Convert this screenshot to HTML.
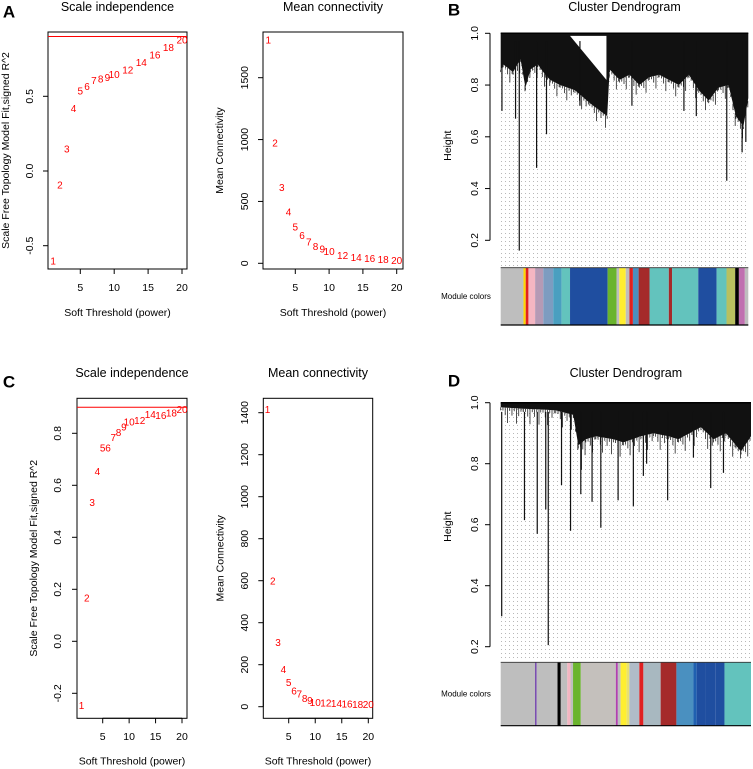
<!DOCTYPE html>
<html><head><meta charset="utf-8">
<style>
html,body{margin:0;padding:0;background:#fff;}
svg{display:block;font-family:"Liberation Sans",Arial,sans-serif;}
</style></head>
<body>
<svg id="fig" width="753" height="769" viewBox="0 0 753 769" xmlns="http://www.w3.org/2000/svg">
<defs>
<pattern id="dots" width="4" height="4" patternUnits="userSpaceOnUse">
<rect x="1" y="1" width="1" height="1" fill="#b8b8b8"/>
</pattern>
</defs>
</svg>
<script>
// ---- data ----
const powers=[1,2,3,4,5,6,7,8,9,10,12,14,16,18,20];
const A_r2=[-0.61,-0.10,0.14,0.41,0.53,0.56,0.60,0.61,0.62,0.64,0.67,0.72,0.77,0.82,0.87];
const A_k=[1796,966,603,406,287,215,166,129,107,86,53,40,32,22,14];
const C_r2=[-0.25,0.163,0.53,0.65,0.74,0.74,0.78,0.80,0.82,0.84,0.845,0.868,0.864,0.874,0.887];
const C_k=[1410,594,302,173,110,71,56,35,24,16,14,10,8,6,5];
const xTicks=[5,10,15,20];
const A_r2Ticks=[-0.5,0,0.5];
const A_kTicks=[0,500,1000,1500];
const C_r2Ticks=[-0.2,0,0.2,0.4,0.6,0.8];
const C_kTicks=[0,200,400,600,800,1000,1200,1400];
const cutHeight=0.9;
const dendTicks=[0.2,0.4,0.6,0.8,1.0];

const B_profFrac=[0,0.01,0.05,0.08,0.10,0.12,0.15,0.18,0.20,0.24,0.30,0.36,0.43,0.44,0.48,0.52,0.56,0.60,0.64,0.68,0.72,0.76,0.80,0.84,0.88,0.92,0.95,0.98,1.0];
const B_profH=[0.86,0.88,0.85,0.90,0.79,0.86,0.88,0.84,0.82,0.80,0.78,0.73,0.68,0.86,0.82,0.84,0.80,0.83,0.84,0.82,0.80,0.84,0.78,0.74,0.79,0.80,0.68,0.64,0.75];
const B_leafFrac=[0.005,0.06,0.075,0.145,0.185,0.32,0.53,0.74,0.79,0.913,0.975,0.99];
const B_leafH=[0.70,0.67,0.16,0.48,0.61,0.72,0.72,0.70,0.68,0.43,0.54,0.58];
const B_colStart=[0,0.092,0.101,0.112,0.139,0.172,0.212,0.246,0.28,0.432,0.468,0.479,0.48,0.505,0.52,0.534,0.557,0.601,0.679,0.692,0.798,0.872,0.912,0.947,0.962,0.986];
const B_colEnd  =[0.092,0.101,0.112,0.139,0.172,0.212,0.246,0.28,0.432,0.468,0.479,0.48,0.505,0.52,0.534,0.557,0.601,0.679,0.692,0.798,0.872,0.912,0.947,0.962,0.986,1.0];
const B_colors=["#bebebe","#ffd700","#e02020","#f4b6c2","#b59ab5","#7d9cc0","#4a9fc0","#63c3bd","#1f4ea0","#6ab42d","#bebebe","#ffee30","#ffee30","#bebebe","#e02020","#4a8fc0","#a52a2a","#63c3bd","#a52a2a","#63c3bd","#1f4ea0","#63c3bd","#b8c060","#000000","#c070b0","#bebebe"];

const D_profFrac=[0,0.09,0.16,0.22,0.29,0.31,0.34,0.38,0.45,0.49,0.56,0.61,0.67,0.71,0.80,0.85,0.90,0.94,0.96,1.0];
const D_profH=[0.985,0.98,0.978,0.975,0.96,0.86,0.88,0.89,0.88,0.87,0.89,0.90,0.89,0.88,0.92,0.88,0.90,0.86,0.84,0.89];
const D_leafFrac=[0.004,0.095,0.146,0.19,0.18,0.243,0.279,0.32,0.322,0.365,0.4,0.469,0.53,0.57,0.583,0.667,0.77,0.839,0.89];
const D_leafH=[0.30,0.615,0.57,0.205,0.65,0.73,0.58,0.70,0.78,0.675,0.59,0.68,0.66,0.76,0.80,0.68,0.82,0.72,0.77];
const D_colStart=[0,0.137,0.144,0.227,0.24,0.266,0.279,0.289,0.32,0.46,0.468,0.479,0.503,0.514,0.554,0.57,0.639,0.702,0.77,0.783,0.82,0.857,0.894];
const D_colEnd  =[0.137,0.144,0.227,0.24,0.266,0.279,0.289,0.32,0.46,0.468,0.479,0.503,0.514,0.554,0.57,0.639,0.702,0.77,0.783,0.82,0.857,0.894,1.0];
const D_colors=["#bebebe","#7a4fb0","#bebebe","#000000","#bebebe","#f4b6c2","#bebebe","#6ab42d","#c4c0bc","#b040b0","#bebebe","#ffee30","#e8e070","#b0bcc8","#e02020","#a8b8c0","#a52a2a","#4a90c0","#1f60b0","#1f4ea0","#1f4ea0","#1f4ea0","#63c3bd"];

// ---- helpers ----
const NS="http://www.w3.org/2000/svg";
const svg=document.getElementById('fig');
function el(tag,attrs,parent,txt){const e=document.createElementNS(NS,tag);for(const k in attrs)e.setAttribute(k,attrs[k]);if(txt!==undefined)e.textContent=txt;(parent||svg).appendChild(e);return e;}
function lin(d0,d1,r0,r1){return v=>r0+(v-d0)*(r1-r0)/(d1-d0);}

function text(x,y,s,size,opts,parent){
  return el('text',Object.assign({x:x,y:y,'font-size':size,'text-anchor':'middle','dominant-baseline':'central',fill:'#000'},opts||{}),parent,s);
}

function scalePlot(cfg){
  const g=el('g',{});
  
  
  const xs=lin(5,20,cfg.x5,cfg.x20), ys=lin(cfg.yd0,cfg.yd1,cfg.yr0,cfg.yr1);
  const t=text((cfg.bx0+cfg.bx1)/2,cfg.titleY,cfg.title,12.5,{},g);
  
  
  const box=el('rect',{x:cfg.bx0,y:cfg.by0,width:cfg.bx1-cfg.bx0,height:cfg.by1-cfg.by0,fill:'none',stroke:'#000','stroke-width':1},g);
  
  
  const xa=el('g',{},g);
  
  
  el('line',{x1:xs(xTicks[0]),x2:xs(xTicks[xTicks.length-1]),y1:cfg.by1,y2:cfg.by1,stroke:'#000'},xa);
  xTicks.forEach(v=>{
    el('line',{x1:xs(v),x2:xs(v),y1:cfg.by1,y2:cfg.by1+5,stroke:'#000'},xa);
    const tl=text(xs(v),cfg.tickY,String(v),10.5,{},xa);
    
    
  });
  const xl=text((cfg.bx0+cfg.bx1)/2,cfg.xlabY,'Soft Threshold (power)',10.5,{},g);
  
  
  const ya=el('g',{},g);
  
  
  el('line',{x1:cfg.bx0,x2:cfg.bx0,y1:ys(cfg.yticks[0]),y2:ys(cfg.yticks[cfg.yticks.length-1]),stroke:'#000'},ya);
  cfg.yticks.forEach(v=>{
    el('line',{x1:cfg.bx0-5,x2:cfg.bx0,y1:ys(v),y2:ys(v),stroke:'#000'},ya);
    const s=cfg.dec?v.toFixed(1):String(v);
    const tl=text(cfg.ytickX,ys(v),s,10.5,{transform:`rotate(-90 ${cfg.ytickX} ${ys(v)})`},ya);
    
    
  });
  const yl=text(cfg.ylabX,(cfg.by0+cfg.by1)/2,cfg.ylab,10.5,{transform:`rotate(-90 ${cfg.ylabX} ${(cfg.by0+cfg.by1)/2})`},g);
  
  
  if(cfg.cut){
    const c=el('line',{x1:cfg.bx0,x2:cfg.bx1,y1:ys(cutHeight),y2:ys(cutHeight),stroke:'#ff0000','stroke-width':1},g);
    
    
  }
  cfg.vals.forEach((v,i)=>{
    const p=text(xs(powers[i]),ys(v),String(powers[i]),10,{fill:'#ff0000'},g);
    
    
  });
}

scalePlot({name:'panel-a-scale-independence',title:'Scale independence',bx0:48,bx1:187,by0:32,by1:269,x5:80.3,x20:182,yd0:0,yd1:0.5,yr0:171,yr1:96.3,yticks:A_r2Ticks,dec:true,vals:A_r2,cut:true,titleY:7,tickY:288,xlabY:313,ytickX:30,ylabX:6,ylab:'Scale Free Topology Model Fit,signed R^2'});
scalePlot({name:'panel-a-mean-connectivity',title:'Mean connectivity',bx0:263,bx1:403,by0:32,by1:269,x5:295.3,x20:396.7,yd0:0,yd1:1500,yr0:263.3,yr1:77.7,yticks:A_kTicks,dec:false,vals:A_k,cut:false,titleY:7,tickY:288,xlabY:313,ytickX:245,ylabX:220,ylab:'Mean Connectivity'});
scalePlot({name:'panel-c-scale-independence',title:'Scale independence',bx0:77,bx1:187,by0:398.3,by1:718.3,x5:102.7,x20:182,yd0:0,yd1:0.8,yr0:641.3,yr1:433.3,yticks:C_r2Ticks,dec:true,vals:C_r2,cut:true,titleY:373,tickY:737,xlabY:761.7,ytickX:58,ylabX:34,ylab:'Scale Free Topology Model Fit,signed R^2'});
scalePlot({name:'panel-c-mean-connectivity',title:'Mean connectivity',bx0:263.3,bx1:372.7,by0:398.3,by1:718.3,x5:288.7,x20:368.3,yd0:0,yd1:1400,yr0:706.7,yr1:412.7,yticks:C_kTicks,dec:false,vals:C_k,cut:false,titleY:373,tickY:737,xlabY:761.7,ytickX:245,ylabX:220.7,ylab:'Mean Connectivity'});

function dendro(cfg){
  const g=el('g',{});
  
  
  const xs=lin(0,1,cfg.x0,cfg.x1), ys=lin(1,0.2,cfg.y10,cfg.y02);
  const t=text((cfg.x0+cfg.x1)/2,cfg.titleY,'Cluster Dendrogram',12.5,{},g);
  
  
  const bg=el('rect',{x:cfg.x0,y:cfg.y10,width:cfg.x1-cfg.x0,height:cfg.dotBottom-cfg.y10,fill:'url(#dots)'},g);
  
  
  let d=`M${xs(0)},${ys(1)} `;
  cfg.pf.forEach((f,i)=>{d+=`L${xs(f)},${ys(cfg.ph[i])} `;});
  d+=`L${xs(1)},${ys(1)} Z`;
  const m=el('path',{d:d,fill:'#111'},g);
  
  
  for(let i=0;i<cfg.pf.length-1;i++){
    const a=cfg.pf[i],b=cfg.pf[i+1];
    let k=0;
    for(let f=a;f<b;f+=0.009){
      k++;
      const h=cfg.ph[i]+(cfg.ph[i+1]-cfg.ph[i])*(f-a)/(b-a);
      const drop=(k%4===0)?0.05:((k%3===0)?0.025:0.01);
      const l=el('line',{x1:xs(f),x2:xs(f),y1:ys(h),y2:ys(h-drop),stroke:'#222','stroke-width':0.8},g);
      
      
    }
  }
  if(cfg.tri){
    const w=el('path',{d:`M${xs(cfg.tri[0])},${ys(0.99)} L${xs(cfg.tri[1])},${ys(0.99)} L${xs(cfg.tri[1])},${ys(cfg.tri[2])} Z`,fill:'#fff'},g);
    
    
  }
  cfg.lf.forEach((f,i)=>{
    const l=el('line',{x1:xs(f),x2:xs(f),y1:ys(0.97),y2:ys(cfg.lh[i]),stroke:'#111','stroke-width':1.2},g);
    
    
  });
  el('line',{x1:cfg.x0,x2:cfg.x1,y1:ys(1),y2:ys(1),stroke:'#000','stroke-width':1.5},g);
  const ya=el('g',{},g);
  
  
  el('line',{x1:490,x2:490,y1:ys(0.2),y2:ys(1),stroke:'#000'},ya);
  dendTicks.forEach(v=>{
    el('line',{x1:485,x2:490,y1:ys(v),y2:ys(v),stroke:'#000'},ya);
    const tl=text(475,ys(v),v.toFixed(1),10.5,{transform:`rotate(-90 475 ${ys(v)})`},ya);
    
    
  });
  const yl=text(448,cfg.hLabY,'Height',10.5,{transform:`rotate(-90 448 ${cfg.hLabY})`},g);
  
  
  const cb=el('g',{},g);
  
  
  cfg.cs.forEach((s,i)=>{
    const r=el('rect',{x:xs(s),y:cfg.barY0,width:Math.max(0.6,xs(cfg.ce[i])-xs(s)),height:cfg.barY1-cfg.barY0,fill:cfg.cc[i]},cb);
    
    
  });
  el('line',{x1:cfg.x0,x2:cfg.x1,y1:cfg.barY0,y2:cfg.barY0,stroke:'#333','stroke-width':0.8},cb);
  el('line',{x1:cfg.x0,x2:cfg.x1,y1:cfg.barY1,y2:cfg.barY1,stroke:'#000','stroke-width':1.2},cb);
  const ml=text(466,(cfg.barY0+cfg.barY1)/2,'Module colors',8,{},g);
  
  
}

dendro({name:'panel-b-cluster-dendrogram',x0:500.7,x1:748.3,y10:33.3,y02:240.3,dotBottom:266.7,titleY:7,hLabY:145.7,barY0:267.7,barY1:325,pf:B_profFrac,ph:B_profH,lf:B_leafFrac,lh:B_leafH,cs:B_colStart,ce:B_colEnd,cc:B_colors,tri:[0.28,0.427,0.82]});
dendro({name:'panel-d-cluster-dendrogram',x0:500.7,x1:751,y10:402.7,y02:646.7,dotBottom:658,titleY:373,hLabY:526.7,barY0:662.3,barY1:725.7,pf:D_profFrac,ph:D_profH,lf:D_leafFrac,lh:D_leafH,cs:D_colStart,ce:D_colEnd,cc:D_colors,tri:null});

[['A',9,12],['B',454,10],['C',9,382],['D',454,381]].forEach(p=>{
  const t=text(p[1],p[2],p[0],17,{'font-weight':'bold'});
  
  
});
</script>
</body></html>
